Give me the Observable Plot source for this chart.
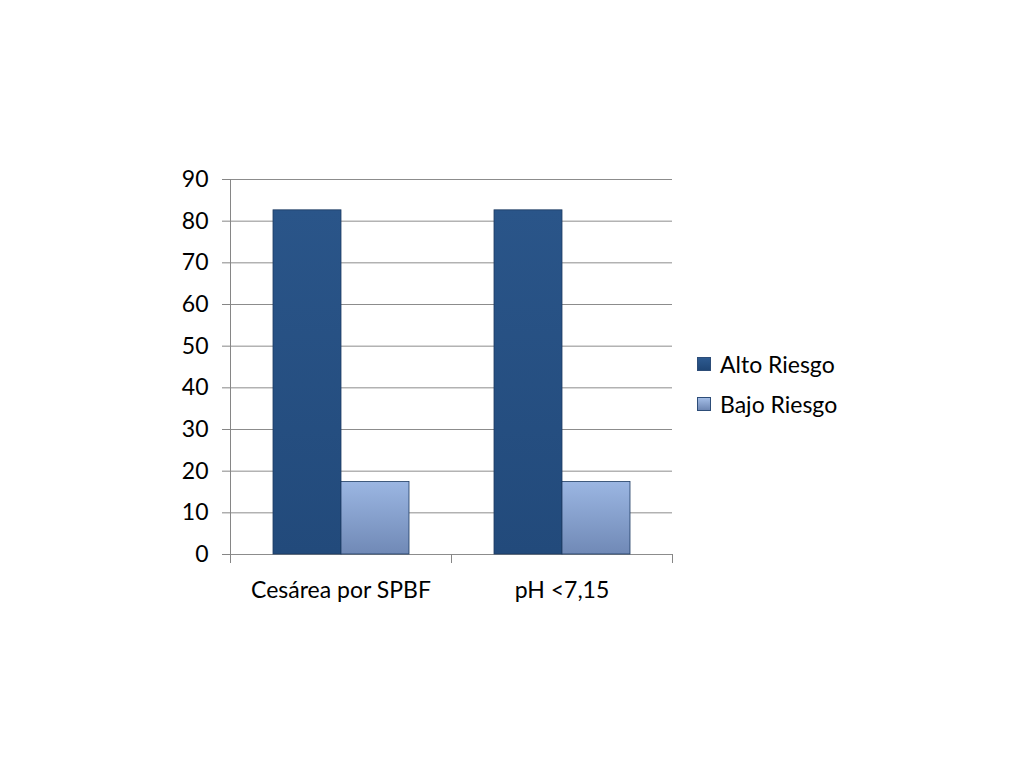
<!DOCTYPE html>
<html>
<head>
<meta charset="utf-8">
<script src="https://cdn.jsdelivr.net/npm/d3@7"></script>
<script src="https://cdn.jsdelivr.net/npm/@observablehq/plot@0.6"></script>
<style>
  html, body { margin: 0; padding: 0; background: #fff; }
  #wrap { position: relative; width: 1024px; height: 768px; font-family: Lato, "Open Sans", sans-serif; }
  #legend { position: absolute; left: 697px; top: 350px; font-size: 23px; color: #000; }
  #legend .row { display: flex; align-items: center; height: 28px; margin-bottom: 12px; }
  #legend .sw { width: 12px; height: 12px; margin-right: 9px; border: 1px solid #2d4d78; }
</style>
</head>
<body>
<svg width="0" height="0" style="position:absolute">
  <defs>
    <linearGradient id="gAlto" x1="0" y1="0" x2="0" y2="1">
      <stop offset="0" stop-color="#2a5589"/>
      <stop offset="1" stop-color="#224a7b"/>
    </linearGradient>
    <linearGradient id="gBajo" x1="0" y1="0" x2="0" y2="1">
      <stop offset="0" stop-color="#9bb6e2"/>
      <stop offset="1" stop-color="#7089b6"/>
    </linearGradient>
  </defs>
</svg>
<div id="wrap"><div id="legend"></div></div>
<script>
const categories = ["Cesárea por SPBF", "pH <7,15"];
const series = ["Alto Riesgo", "Bajo Riesgo"];
const altoRiesgo = [82.6, 82.6];
const bajoRiesgo = [17.4, 17.4];
const yTicks = [0, 10, 20, 30, 40, 50, 60, 70, 80, 90];
const seriesFill = ["url(#gAlto)", "url(#gBajo)"];
const swatchGradients = ["linear-gradient(#2d5a90, #1f4676)", "linear-gradient(#a3bde6, #6e87b3)"];

const data = categories.flatMap((c, i) => [
  {category: c, series: series[0], value: altoRiesgo[i]},
  {category: c, series: series[1], value: bajoRiesgo[i]}
]);

const mTop = 179, mBottom = 214, H = 768;
const innerH = H - mTop - mBottom;

const chart = Plot.plot({
  width: 1024,
  height: H,
  marginLeft: 230,
  marginRight: 352,
  marginTop: mTop,
  marginBottom: mBottom,
  style: {fontFamily: "Lato, 'Open Sans', sans-serif", background: "transparent"},
  fx: {domain: categories, padding: 0, label: null},
  x: {domain: series, paddingInner: 0, paddingOuter: 0.625, axis: null},
  y: {domain: [0, 90], axis: null},
  color: {domain: series, range: seriesFill},
  marks: [
    Plot.ruleY(yTicks, {stroke: "#8c8c8c", strokeWidth: 1}),
    Plot.barY(data, {fx: "category", x: "series", y: "value", fill: "series", stroke: "#1d3b62", strokeWidth: 0.8}),
    Plot.frame({anchor: "left", insetBottom: -8, stroke: "#868686", facetAnchor: "left"}),
    Plot.frame({anchor: "right", insetTop: innerH, insetBottom: -8, stroke: "#868686"}),
    Plot.frame({anchor: "left", insetTop: innerH, insetBottom: -8, stroke: "#868686"}),
    Plot.axisY({ticks: yTicks, tickSize: 8, tickPadding: 14, stroke: "#868686", fill: "#000", fontSize: 23, label: null}),
    Plot.axisFx({anchor: "bottom", tickSize: 0, tickPadding: 27, fill: "#000", fontSize: 23, label: null})
  ]
});

document.getElementById("wrap").prepend(chart);
chart.style.position = "absolute";
chart.style.left = "0";
chart.style.top = "0";

const legend = document.getElementById("legend");
series.forEach((s, i) => {
  const row = document.createElement("div");
  row.className = "row";
  const sw = document.createElement("span");
  sw.className = "sw";
  sw.style.background = swatchGradients[i];
  const t = document.createElement("span");
  t.textContent = s;
  row.append(sw, t);
  legend.append(row);
});
</script>
</body>
</html>
